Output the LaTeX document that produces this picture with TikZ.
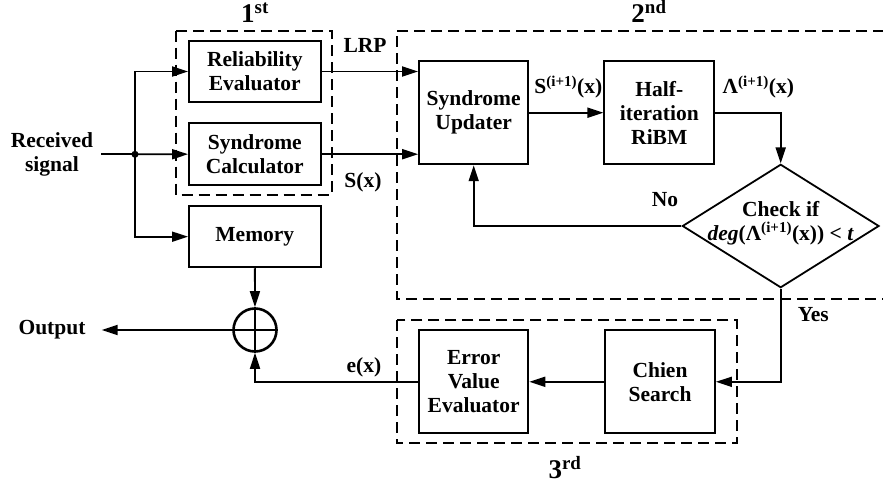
\documentclass[tikz,border=0pt]{standalone}
\usepackage{fontspec}
\setmainfont{Liberation Serif}
\usetikzlibrary{shapes.geometric,arrows.meta}

\tikzset{
  every node/.style={font=\fontsize{21.5}{24}\selectfont\bfseries},
  block/.style={draw, line width=1.8pt, inner sep=0pt, align=center},
  stage/.style={draw, line width=1.8pt, dash pattern=on 11pt off 6pt},
  stagelbl/.style={font=\fontsize{27}{29}\selectfont\bfseries, anchor=base},
  lbl/.style={inner sep=0pt, align=center},
  wire/.style={line width=1.8pt},
  arr/.style={wire, -{Triangle[length=16pt,width=10pt]}},
}

\begin{document}
\begin{tikzpicture}[x=1pt, y=-1pt]
\useasboundingbox (0,0) rectangle (883,486);

% stage 1: reliability evaluation and syndrome computation
\node[block, minimum width=131.7pt, minimum height=61.6pt] (rel) at (254.8,71.5) {Reliability\\Evaluator};
\node[block, minimum width=131.7pt, minimum height=61.7pt] (scalc) at (254.8,154.2) {Syndrome\\Calculator};
\node[block, minimum width=131.7pt, minimum height=61.3pt] (mem) at (254.8,236.7) {Memory};
\draw[stage] (176,30.7) rectangle (331.7,195);
\node[stagelbl] (s1) at (255,22.7) {1\textsuperscript{st}};

% stage 2: iterative key-equation solver
\node[block, minimum width=109.3pt, minimum height=103.3pt] (su) at (473.7,112.7) {Syndrome\\Updater};
\node[block, minimum width=110pt, minimum height=103.3pt] (ribm) at (659.3,112.7) {Half-\\iteration\\RiBM};
\node[diamond, draw, line width=1.8pt, minimum width=196.7pt, minimum height=123.4pt, inner sep=0pt] (dia) at (780.7,226) {};
\node[lbl] (diatext) at (780.7,223) {Check if\\\textit{deg}(Λ\textsuperscript{(i+1)}(x)) {<} \textit{t}};
\draw[stage] (884,30.7) -- (396.7,30.7) -- (396.7,299) -- (884,299);
\node[stagelbl] (s2) at (649,22.7) {2\textsuperscript{nd}};

% stage 3: error location and evaluation
\node[block, minimum width=109.3pt, minimum height=103pt] (eve) at (473.7,381.8) {Error\\Value\\Evaluator};
\node[block, minimum width=110pt, minimum height=103pt] (chien) at (660,381.8) {Chien\\Search};
\draw[stage] (396.7,320) rectangle (736.7,443.3);
\node[stagelbl] (s3) at (565,478.3) {3\textsuperscript{rd}};

% correction adder
\node[circle, draw, line width=2.6pt, minimum size=43pt, inner sep=0pt] (sum) at (255,330) {};
\draw[line width=2.2pt] (sum.north) -- (sum.south) (sum.west) -- (sum.east);

% input and output
\node[lbl] (rx) at (52,154) {Received\\signal};
\node[lbl] (outtxt) at (52,330) {Output};
\coordinate (in) at (101,154.3);
\coordinate (j) at (135,154.3);
\coordinate (out) at (101.7,330);

\draw[wire] (in) -- (j);
\fill (j) circle (3.5pt);
\draw[arr] (j) |- (rel.west);
\draw[arr] (j) -- (scalc.west);
\draw[arr] (j) |- (mem.west);
\draw[arr] (rel.east) -- (su.west |- rel.east);
\draw[arr] (scalc.east) -- (su.west |- scalc.east);
\draw[arr] (su) -- (ribm);
\draw[arr] (ribm.east) -| (dia.north);
\draw[arr] (dia.west) -| (su.south);
\draw[arr] (dia.south) |- (chien.east);
\draw[arr] (chien) -- (eve);
\draw[arr] (eve.west) -| (sum.south);
\draw[arr] (mem) -- (sum);
\draw[arr] (sum.west) -- (out);

% signal labels
\node[lbl] (lrp) at (365,45) {LRP};
\node[lbl] (sx) at (363,182.7) {S(x)};
\node[lbl] (sup) at (568.3,87) {S\textsuperscript{(i+1)}(x)};
\node[lbl] (lam) at (758.3,87) {Λ\textsuperscript{(i+1)}(x)};
\node[lbl] (no) at (665,200) {No};
\node[lbl] (yes) at (813.3,315) {Yes};
\node[lbl] (ex) at (364,367) {e(x)};
\end{tikzpicture}
\end{document}
